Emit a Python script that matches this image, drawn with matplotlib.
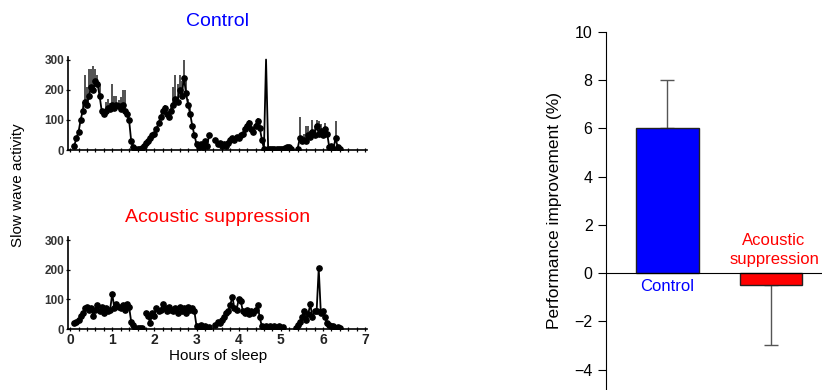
import numpy as np
import matplotlib
matplotlib.use("Agg")
from matplotlib import pyplot as plt
from matplotlib.ticker import MultipleLocator

plt.rcParams['font.family'] = ['Liberation Sans', 'DejaVu Sans']

# slow wave activity, sampled every 0.05 h starting at 0.10 h (nan = no data)
hours = np.round(np.arange(0.10, 6.41, 0.05), 2)
control_swa = [
    15, 40, 60, 100, 130, 160, 150, 180, 210, 200, 230, 220, 180, 130, 120, 130,
    140, 135, 150, 140, 150, 145, 135, 150, 130, 120, 100, 30, 10, 5, 5, 3,
    8, 15, 25, 30, 40, 50, 55, 70, 90, 110, 130, 140, 120, 110, 130, 150,
    170, 160, 200, 180, 240, 190, 150, 120, 80, 50, 20, 10, 20, 10, 30, 15,
    50, np.nan, np.nan, 35, 20, 25, 15, 20, 15, 25, 35, 40, 35, 45, 40, 50,
    55, 70, 80, 90, 70, 60, 80, 95, 75, 35, 5, 300, 5, 5, 5, 5,
    5, 5, 3, 3, 8, 10, 10, 5, np.nan, np.nan, 5, 40, 30, 35, 30, 50,
    45, 60, 50, 80, 55, 65, 50, 70, 55, 10, 15, 5, 40, 10, 5,
]
# upper error bar length (0 = none drawn)
control_err = [
    0, 0, 0, 0, 30, 90, 60, 90, 60, 80, 40, 30, 40, 0, 0, 30,
    30, 20, 70, 40, 30, 20, 40, 50, 70, 0, 0, 0, 0, 0, 0, 0,
    0, 0, 0, 0, 0, 0, 0, 0, 0, 0, 10, 10, 0, 0, 20, 60,
    80, 60, 50, 50, 60, 40, 20, 20, 0, 0, 0, 0, 0, 0, 0, 0,
    0, 0, 0, 0, 0, 0, 0, 0, 0, 0, 0, 0, 0, 0, 0, 0,
    0, 10, 10, 10, 10, 0, 10, 10, 20, 0, 0, 0, 0, 0, 0, 0,
    0, 0, 0, 0, 0, 0, 0, 0, 0, 0, 0, 70, 10, 20, 50, 30,
    20, 40, 30, 20, 40, 20, 20, 20, 10, 0, 0, 0, 55, 0, 0,
]
acoustic_swa = [
    20, 25, 30, 45, 55, 70, 75, 65, 70, 45, 65, 80, 60, 75, 55, 70,
    60, 65, 120, 70, 85, 75, 70, 80, 65, 85, 75, 25, 15, 5, 5, 3,
    3, np.nan, 55, 45, 20, 55, 45, 70, 60, 65, 85, 70, 60, 75, 65, 60,
    70, 55, 75, 60, 70, 55, 75, 65, 70, 60, 10, 5, 15, 5, 10, 5,
    8, np.nan, np.nan, 15, 25, 20, 30, 40, 55, 60, 80, 110, 70, 65, 100, 95,
    60, 55, 65, 50, 60, 55, 65, 80, 40, 10, 5, 10, 5, 10, 5, 10,
    5, 10, 5, 8, np.nan, np.nan, np.nan, np.nan, np.nan, 5, 15, 25, 40, 60, 30, 50,
    85, 40, 60, 60, 205, 55, 60, 40, 20, 15, 10, 10, 5, 8, 5,
]

groups = ['Control', 'Acoustic\nsuppression']
improvement = [6.0, -0.5]
improvement_sem = [2.0, 2.5]
bar_colors = ['#0000ff', '#ff0000']

fig = plt.figure(figsize=(8.22, 3.9), dpi=100)


def style_swa(ax, show_labels):
    ax.set_xlim(-0.05, 7.05)
    ax.set_ylim(0, 310)
    ax.spines['right'].set_visible(False)
    ax.spines['top'].set_visible(False)
    ax.spines['left'].set_linewidth(1.2)
    ax.spines['bottom'].set_linewidth(1.2)
    ax.set_yticks([0, 100, 200, 300])
    ax.xaxis.set_major_locator(MultipleLocator(1))
    ax.xaxis.set_minor_locator(MultipleLocator(0.2))
    ax.tick_params(axis='both', which='both', direction='inout', length=3, width=0.9, pad=1)
    for lab in ax.get_yticklabels():
        lab.set_fontsize(8.5)
        lab.set_fontweight('bold')
        lab.set_color('#333333')
    if show_labels:
        ax.tick_params(axis='x', labelsize=10)
        for lab in ax.get_xticklabels():
            lab.set_fontweight('bold')
            lab.set_color('#222222')
    else:
        ax.tick_params(axis='x', labelbottom=False)


# Control panel
ax1 = fig.add_axes([0.0827, 0.615, 0.364, 0.24])
c = np.array(control_swa, dtype=float)
e = np.array(control_err, dtype=float)
ax1.vlines(hours, c, c + e, color='#222222', lw=1.1)
ax1.plot(hours, c, color='black', lw=1.3)
cm = np.where(c >= 300, np.nan, c)
ax1.plot(hours, cm, 'o', color='black', ms=3.8)
style_swa(ax1, False)
ax1.set_title('Control', color='#0000ff', fontsize=14, pad=22)

# Acoustic suppression panel
ax2 = fig.add_axes([0.0827, 0.156, 0.364, 0.236])
a = np.array(acoustic_swa, dtype=float)
ax2.plot(hours, a, color='black', lw=1.3)
ax2.plot(hours, a, 'o', color='black', ms=3.8)
style_swa(ax2, True)
ax2.set_title('Acoustic suppression', color='#ff0000', fontsize=14, pad=11)
ax2.set_xlabel('Hours of sleep', fontsize=11, labelpad=2)

fig.text(0.022, 0.525, 'Slow wave activity', rotation=90, ha='center', va='center',
         fontsize=11)

# bar chart
ax3 = fig.add_axes([0.737, 0.0, 0.263, 0.918])
pos = np.arange(len(groups))
ax3.bar(pos, improvement, width=0.605, color=bar_colors, edgecolor='#222222', lw=1, zorder=2)
ax3.errorbar(pos[0], improvement[0], yerr=[[0], [improvement_sem[0]]], fmt='none',
             ecolor='#555555', elinewidth=1, capsize=5, zorder=1)
ax3.errorbar(pos[1], improvement[1], yerr=[[improvement_sem[1]], [0]], fmt='none',
             ecolor='#555555', elinewidth=1, capsize=5, zorder=1)
ax3.axhline(0, color='black', lw=0.8, zorder=3)
ax3.set_xlim(-0.595, 1.493)
ax3.set_ylim(-4.85, 10)
ax3.set_yticks([-4, -2, 0, 2, 4, 6, 8, 10])
ax3.set_xticks([])
for s in ['right', 'top', 'bottom']:
    ax3.spines[s].set_visible(False)
ax3.tick_params(axis='y', direction='out', length=6, labelsize=11.5)
ax3.set_ylabel('Performance improvement (%)', fontsize=12.5, labelpad=9)
ax3.text(pos[0], -0.25, groups[0], color=bar_colors[0], ha='center', va='top', fontsize=12)
ax3.text(pos[1] + 0.03, 0.25, groups[1], color=bar_colors[1], ha='center', va='bottom',
         fontsize=12, linespacing=1.3)

fig.savefig('out.png', dpi=100)
